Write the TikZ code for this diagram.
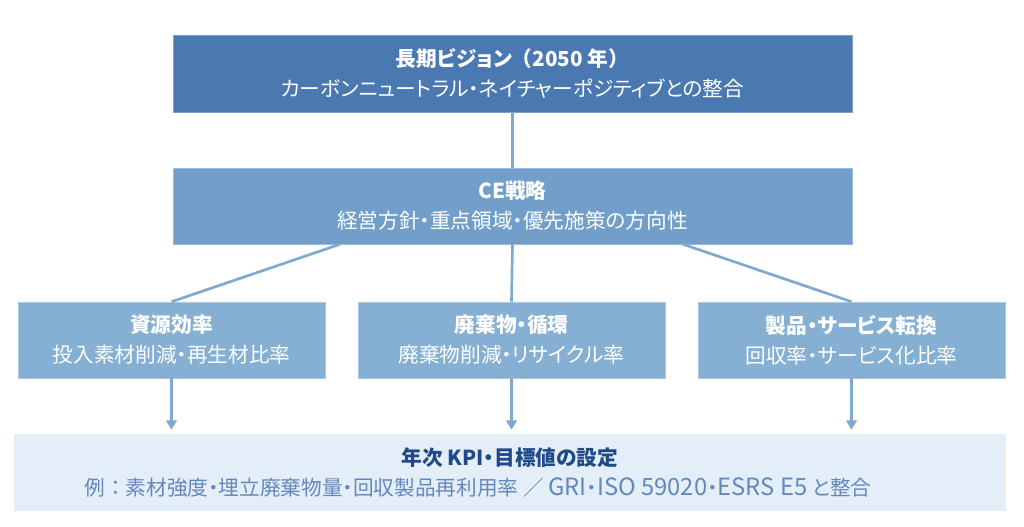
\documentclass[tikz,border=0pt]{standalone}
\usepackage{fontspec}
\setmainfont[RawFeature=+palt]{Noto Sans CJK JP}
\newfontfamily\latin[Scale=1.15]{Noto Sans CJK JP}
\newcommand{\fw}[1]{{\addfontfeature{RawFeature=-palt}#1}}
\usetikzlibrary{arrows.meta, positioning, calc}
\definecolor{visionblue}{RGB}{74, 120, 176}
\definecolor{stratblue}{RGB}{114, 159, 201}
\definecolor{areablue}{RGB}{133, 176, 211}
\definecolor{kpifill}{RGB}{228, 238, 248}
\definecolor{linkblue}{RGB}{127, 169, 207}
\definecolor{kpititle}{RGB}{31, 73, 137}
\definecolor{kpitext}{RGB}{98, 136, 190}

\begin{document}
\begin{tikzpicture}[x=0.75pt, y=-0.75pt,
  levelbox/.style={rectangle, inner sep=0pt, align=center, text=white, font=\fontsize{15.5}{18}\selectfont},
  link/.style={draw=linkblue, line width=2pt},
  down/.style={link, -{Triangle[width=8pt, length=7pt]}}]
  \useasboundingbox (0, 0) rectangle (1024, 527);

  % Vision and strategy
  \node[levelbox, fill=visionblue, draw=visionblue!70!white, minimum width=509pt, minimum height=57.75pt] (vision) at (512.5, 73.5) {
    \textbf{長期ビジョン\fw{（}2050 年\fw{）}}\\[4.5pt]
    カーボンニュートラル・ネイチャーポジティブとの整合
  };
  \node[levelbox, fill=stratblue, draw=stratblue!70!white, minimum width=509pt, minimum height=57pt] (ce) at (512.5, 206) {
    \textbf{CE戦略}\\[4.5pt]
    経営方針・重点領域・優先施策の方向性
  };

  % Three focus areas
  \node[levelbox, fill=areablue, draw=areablue!70!white, minimum width=230pt, minimum height=57pt] (res) at (171.5, 340) {
    \textbf{資源効率}\\[4.5pt]
    投入素材削減・再生材比率
  };
  \node[levelbox, fill=areablue, draw=areablue!70!white, minimum width=230pt, minimum height=57pt] (waste) at (511.5, 340) {
    \textbf{廃棄物・循環}\\[4.5pt]
    廃棄物削減・リサイクル率
  };
  \node[levelbox, fill=areablue, draw=areablue!70!white, minimum width=230pt, minimum height=57pt] (prod) at (851.5, 340) {
    \textbf{製品・サービス転換}\\[4.5pt]
    回収率・サービス化比率
  };

  % KPI box
  \node[levelbox, fill=kpifill, minimum width=744pt, minimum height=57.75pt] (kpi) at (510, 472.5) {
    \textcolor{kpititle}{\textbf{年次 KPI・目標値の設定}}\\[4.5pt]
    \textcolor{kpitext}{例\fw{：}素材強度・埋立廃棄物量・回収製品再利用率 \fw{／} {\latin GRI}・{\latin ISO 59020}・{\latin ESRS E5} と整合}\hspace*{48pt}
  };

  \draw[link] (vision) -- (ce);
  \draw[link] ($(ce.south west)!0.246!(ce.south east)$) -- (res.north);
  \draw[link] (ce.south) -- (waste.north);
  \draw[link] ($(ce.south west)!0.751!(ce.south east)$) -- (prod.north);

  % Arrows down
  \draw[down] (res.south) -- ([yshift=3pt]res.south |- kpi.north);
  \draw[down] (waste.south) -- ([yshift=3pt]waste.south |- kpi.north);
  \draw[down] (prod.south) -- ([yshift=3pt]prod.south |- kpi.north);
\end{tikzpicture}
\end{document}
